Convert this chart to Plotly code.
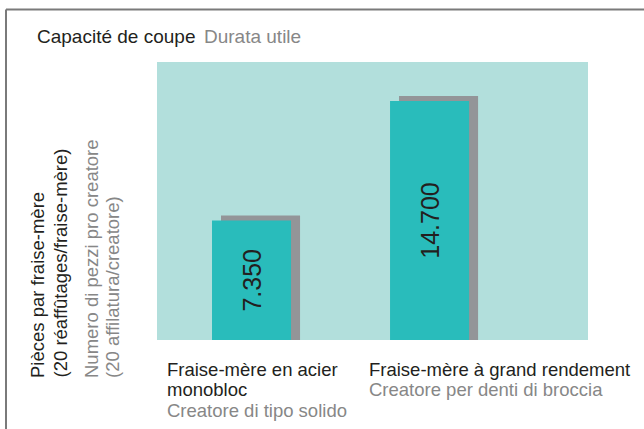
import plotly.graph_objects as go

# ---------------- Data ---------------- #
categories = ["Fraise-mère en acier monobloc", "Fraise-mère à grand rendement"]
cat_lines_fr = [["Fraise-mère en acier", "monobloc"], ["Fraise-mère à grand rendement"]]
cat_lines_it = ["Creatore di tipo solido", "Creatore per denti di broccia"]
values = [7350, 14700]

title_fr = "Capacité de coupe"
title_it = "Durata utile"
ytitle_fr = ["Pièces par fraise-mère", "(20 réaffûtages/fraise-mère)"]
ytitle_it = ["Numero di pezzi pro creatore", "(20 affilatura/creatore)"]

# ---------------- Layout helpers ---------------- #
W, H = 644, 429
L, R, T, B = 157, 56, 62, 89
PW, PH = W - L - R, H - T - B
FONT = "Liberation Sans, Arial, Helvetica, sans-serif"
DARK = "#231f20"
GREY = "#878787"
FS = 18.5


def px(x):
    return (x - L) / PW


def py(y):
    return (H - B - y) / PH


YMAX = 17100
UNIT = 178           # px per category step
BAR_W = 0.444
SHADOW_DX = 9 / UNIT     # shadow sits 9px right ...
SHADOW_PAD = 5           # ... and 5px higher (drawn with a 10px outline)

fig = go.Figure()

# Shadow bars (grey, behind): narrower body + thick outline of the same colour
sw = BAR_W - 2 * SHADOW_PAD / UNIT
fig.add_trace(go.Bar(
    x=categories, y=values,
    width=sw, offset=-BAR_W / 2 + SHADOW_DX + SHADOW_PAD / UNIT,
    marker=dict(color="#939598", line=dict(width=2 * SHADOW_PAD, color="#939598")),
    hoverinfo="skip",
))

# Main bars (teal)
fig.add_trace(go.Bar(
    x=categories, y=values,
    width=BAR_W, offset=-BAR_W / 2,
    marker=dict(color="#29bcbb", line=dict(width=0)),
    texttemplate="%{y:,.0f}", textposition="inside", insidetextanchor="middle",
    textangle=-90, constraintext="none",
    textfont=dict(family=FONT, size=25, color=DARK),
))

ann = []
# Title
ann.append(dict(x=px(35), y=py(37), text=title_fr, xanchor="left", yanchor="middle",
                font=dict(size=19, color=DARK)))
ann.append(dict(x=px(202), y=py(37), text=title_it, xanchor="left", yanchor="middle",
                font=dict(size=19, color=GREY)))

# Y titles (rotated, one annotation per line)
for xc, txt, col in zip([37, 60, 91.5, 112], ytitle_fr + ytitle_it, [DARK, DARK, GREY, GREY]):
    ann.append(dict(x=px(xc), y=py(380), text=txt, textangle=-90,
                    xanchor="center", yanchor="bottom", font=dict(size=FS, color=col)))

# Category labels
label_x = [165, 367]
for i in range(len(categories)):
    lines = [(t, DARK) for t in cat_lines_fr[i]] + [(cat_lines_it[i], GREY)]
    for j, (txt, col) in enumerate(lines):
        ann.append(dict(x=px(label_x[i]), y=py(369 + 20.5 * j), text=txt,
                        xanchor="left", yanchor="middle", font=dict(size=FS, color=col)))

for a in ann:
    a.update(xref="paper", yref="paper", showarrow=False)

fig.update_layout(
    width=W, height=H,
    margin=dict(l=L, r=R, t=T, b=B),
    font=dict(family=FONT, color=DARK),
    paper_bgcolor="white", plot_bgcolor="#b2dfdc",
    barmode="overlay", showlegend=False, separators=",.",
    xaxis=dict(range=[-0.531, 1.89], showticklabels=False, showgrid=False,
               zeroline=False, ticks="", showline=False),
    yaxis=dict(range=[0, YMAX], showticklabels=False, showgrid=False,
               zeroline=False, ticks="", showline=False),
    annotations=ann,
    shapes=[
        dict(type="line", xref="paper", yref="paper", x0=px(6), x1=px(W), y0=py(9.5), y1=py(9.5),
             line=dict(color="#7a7a7a", width=2)),
        dict(type="line", xref="paper", yref="paper", x0=px(6), x1=px(6), y0=py(9.5), y1=py(H),
             line=dict(color="#7a7a7a", width=2)),
    ],
)

# page has a default body margin; drop it so the figure starts at the corner
fig.write_html("out.html", config={"displayModeBar": False},
               post_script="document.body.style.margin='0';document.body.style.overflow='hidden';")
